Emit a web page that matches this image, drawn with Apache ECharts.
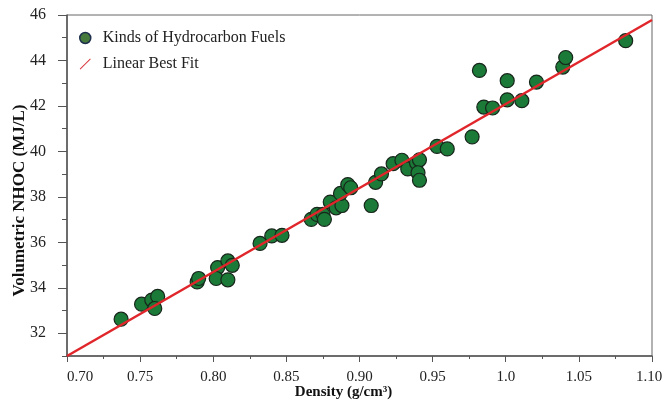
<!DOCTYPE html>
<html>
<head>
<meta charset="utf-8">
<title>Volumetric NHOC vs Density</title>
<script src="https://cdn.jsdelivr.net/npm/echarts@6/dist/echarts.min.js"></script>
</head>
<body style="margin:0;background:#fff;">
<div id="container" style="width:662px;height:402px;"></div>
<script type="text/javascript">
// density (g/cm3) of each fuel
var density = [0.737, 0.751, 0.758, 0.762, 0.760, 0.789, 0.790, 0.803, 0.810, 0.813,
	0.802, 0.810, 0.832, 0.840, 0.847, 0.867, 0.871, 0.875, 0.876, 0.880,
	0.884, 0.888, 0.887, 0.892, 0.894, 0.908, 0.911, 0.915, 0.923, 0.929,
	0.933, 0.939, 0.941, 0.940, 0.941, 0.953, 0.960, 0.977, 0.982, 0.985,
	0.991, 1.001, 1.001, 1.011, 1.021, 1.039, 1.041, 1.082];
// volumetric NHOC (MJ/L)
var nhoc = [32.62, 33.28, 33.46, 33.62, 33.09, 34.26, 34.41, 34.89, 35.18, 34.99,
	34.41, 34.35, 35.95, 36.28, 36.31, 37.01, 37.23, 37.23, 37.01, 37.77,
	37.52, 37.62, 38.15, 38.54, 38.40, 37.62, 38.64, 39.01, 39.46, 39.61,
	39.23, 39.49, 39.63, 39.06, 38.73, 40.22, 40.11, 40.64, 43.56, 41.95,
	41.91, 43.11, 42.27, 42.23, 43.05, 43.71, 44.13, 44.87];
// best fit line end points
var fitX = [0.70, 1.10];
var fitY = [31.0, 45.78];

// y ticks: labelled (long) and unlabelled (short)
var yMajor = [32, 34, 36, 38, 40, 42, 44, 46];
var yMinor = [31, 33, 35, 37, 39, 41, 43, 45];
var xTicks = {'0.70':'0.70','0.75':'0.75','0.80':'0.80','0.85':'0.85','0.90':'0.90','0.95':'0.95','1.00':'1.0','1.05':'1.05','1.10':'{r|1.10}'};

var serif = 'Liberation Serif';
var scatterData = [];
for (var i = 0; i < density.length; i++) {
	scatterData.push([density[i], nhoc[i]]);
}
var fitData = [];
for (var j = 0; j < fitX.length; j++) {
	fitData.push([fitX[j], fitY[j]]);
}

var myChart = echarts.init(document.getElementById('container'));
var option = {
	backgroundColor: '#ffffff',
	animation: false,
	grid: {
		left: 67, right: 10, top: 15, bottom: 46,
		outerBoundsMode: 'none',
		show: true, borderColor: '#666', borderWidth: 1
	},
	legend: {
		orient: 'vertical',
		left: 74, top: 25,
		itemGap: 10,
		itemWidth: 11, itemHeight: 11,
		textStyle: { fontFamily: serif, fontSize: 16, lineHeight: 16, color: '#222', padding: [0, 0, 0, 7] },
		data: [
			{ name: 'Kinds of Hydrocarbon Fuels', icon: 'circle',
				itemStyle: { color: '#467a3c', borderColor: '#1d2f4d', borderWidth: 1.5 } },
			{ name: 'Linear Best Fit', icon: 'path://M0,11 L11,0 L11.7,0.7 L0.7,11.7 Z',
				itemStyle: { color: '#d8363c', borderWidth: 0 } }
		]
	},
	xAxis: {
		type: 'value',
		min: 0.70, max: 1.10, interval: 0.05,
		name: 'Density (g/cm³)',
		nameLocation: 'center',
		nameGap: 29,
		nameMoveOverlap: false,
		nameTextStyle: { fontFamily: serif, fontSize: 15, fontWeight: 'bold', color: '#111', padding: [0, 32, 0, 0] },
		axisLine: { lineStyle: { color: '#555', width: 1.5 } },
		axisTick: { length: 6, lineStyle: { color: '#555' } },
		minorTick: { show: true, splitNumber: 2, length: 3, lineStyle: { color: '#555' } },
		splitLine: { show: false },
		axisLabel: {
			fontFamily: serif, fontSize: 15, color: '#222', margin: 14,
			alignMinLabel: 'left',
			rich: { r: { fontFamily: serif, fontSize: 15, color: '#222', padding: [0, 6, 0, 0] } },
			formatter: function (v) {
				var k = v.toFixed(2);
				return xTicks[k] || k;
			}
		}
	},
	yAxis: [
		{
			type: 'value',
			min: 31, max: 46, interval: 1,
			name: 'Volumetric NHOC (MJ/L)',
			nameLocation: 'center',
			nameGap: 39,
			nameMoveOverlap: false,
			nameTextStyle: { fontFamily: serif, fontSize: 17, fontWeight: 'bold', color: '#111', padding: [0, 30, 0, 0] },
			axisLine: { lineStyle: { color: '#555', width: 1.5 } },
			axisTick: { length: 9, customValues: yMajor, lineStyle: { color: '#555' } },
			splitLine: { show: false },
			axisLabel: {
				fontFamily: serif, fontSize: 16, color: '#222', margin: 21,
				customValues: yMajor
			}
		},
		{
			type: 'value',
			position: 'left',
			min: 31, max: 46, interval: 1,
			axisLine: { show: false },
			axisTick: { length: 5, customValues: yMinor, lineStyle: { color: '#555' } },
			axisLabel: { show: false },
			splitLine: { show: false }
		}
	],
	series: [
		{
			name: 'Kinds of Hydrocarbon Fuels',
			type: 'scatter',
			symbolSize: 14,
			itemStyle: { color: '#1b7a37', borderColor: '#17261b', borderWidth: 1.2, opacity: 1 },
			data: scatterData,
			z: 2
		},
		{
			name: 'Linear Best Fit',
			type: 'line',
			showSymbol: false,
			symbol: 'none',
			itemStyle: { color: '#e0262b' },
			lineStyle: { color: '#e0262b', width: 2.5 },
			data: fitData,
			z: 3
		}
	]
};
myChart.setOption(option);
</script>
</body>
</html>
